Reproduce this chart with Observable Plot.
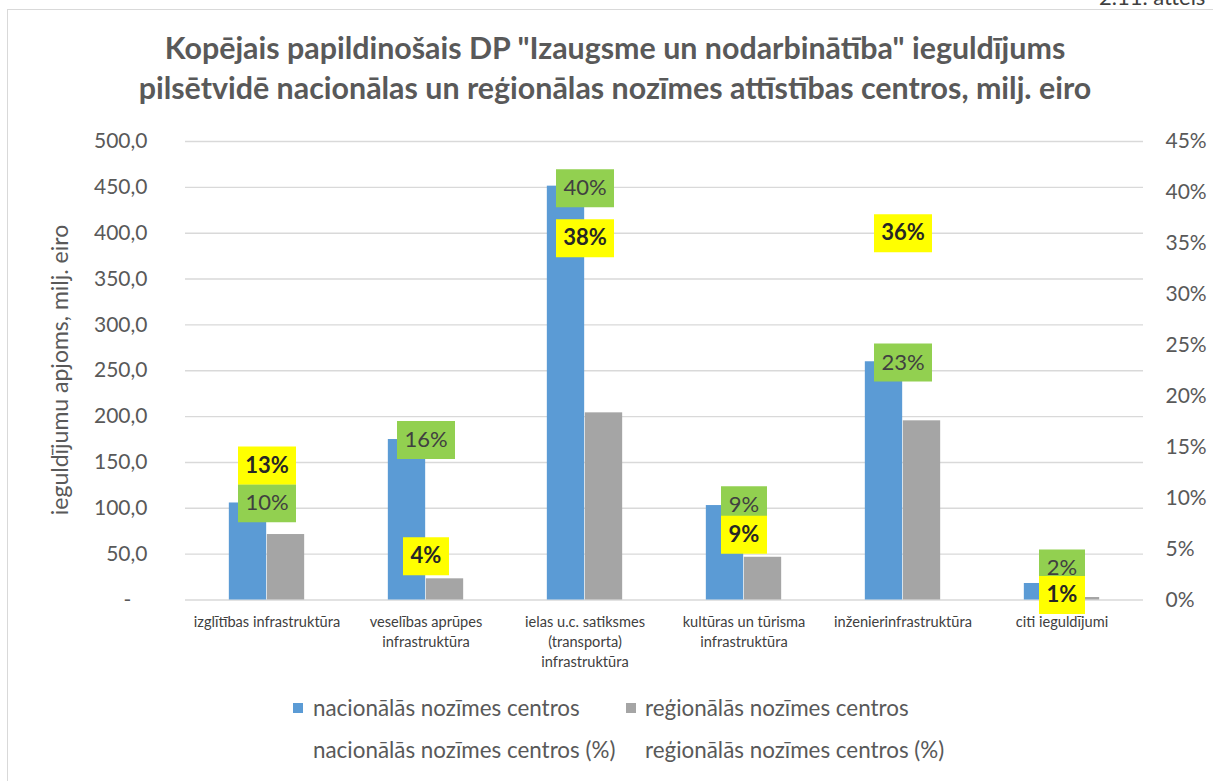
<!DOCTYPE html>
<html><head><meta charset="utf-8">
<script src="https://cdn.jsdelivr.net/npm/d3@7"></script>
<script src="https://cdn.jsdelivr.net/npm/@observablehq/plot@0.6"></script>
<style>
html,body{margin:0;padding:0;background:#fff;}
body{width:1213px;height:781px;overflow:hidden;position:relative;font-family:Lato,sans-serif;}
#frame{position:absolute;left:7px;top:9px;width:1400px;height:900px;border-left:1.5px solid #d9d9d9;border-top:1.5px solid #d9d9d9;}
#fignum{position:absolute;left:1099px;top:-14px;font-size:22px;line-height:22px;color:#404040;white-space:nowrap;}
#title{position:absolute;left:0;width:1230px;top:27px;text-align:center;font-weight:bold;font-size:30.4px;line-height:40px;color:#595959;}
#fig{position:absolute;left:0;top:0;}
#ylabel{position:absolute;left:59px;top:370px;transform:translate(-50%,-50%) rotate(-90deg);white-space:nowrap;font-size:23px;color:#595959;}
.leg{position:absolute;font-size:22.4px;line-height:26px;color:#595959;white-space:nowrap;}
.sw{position:absolute;width:10px;height:10px;}
</style>
</head><body>
<div id="frame"></div>
<div id="fignum">2.11. attēls</div>
<div id="title"></div>
<div id="fig"></div>
<div id="ylabel"></div>
<div id="legend"></div>
<script>
// ---- data ----
const categories = ["izglītības infrastruktūra", "veselības aprūpes infrastruktūra", "ielas u.c. satiksmes (transporta) infrastruktūra", "kultūras un tūrisma infrastruktūra", "inženierinfrastruktūra", "citi ieguldījumi"];
const categoryLabels = ["izglītības infrastruktūra", "veselības aprūpes\ninfrastruktūra", "ielas u.c. satiksmes\n(transporta)\ninfrastruktūra", "kultūras un tūrisma\ninfrastruktūra", "inženierinfrastruktūra", "citi ieguldījumi"];
const nacionalas = [105.8, 175.0, 451.3, 103.0, 259.8, 18.0];
const regionalas = [71.4, 23.1, 204.1, 46.6, 195.4, 2.7];
const nacionalasPct = [9.5, 15.7, 40.4, 9.3, 23.3, 1.6];
const regionalasPct = [13.2, 4.3, 37.6, 8.6, 36.0, 0.5];
const yTicks = [0, 50, 100, 150, 200, 250, 300, 350, 400, 450, 500];
const pctTicks = [0, 5, 10, 15, 20, 25, 30, 35, 40, 45];
const seriesNames = ["nacionālās nozīmes centros", "reģionālās nozīmes centros", "nacionālās nozīmes centros (%)", "reģionālās nozīmes centros (%)"];
const titleLines = ["Kopējais papildinošais DP \"Izaugsme un nodarbinātība\" ieguldījums", "pilsētvidē nacionālas un reģionālas nozīmes attīstības centros, milj. eiro"];
const yLabel = "ieguldījumu apjoms, milj. eiro";

// ---- build ----
document.getElementById("title").innerHTML = titleLines.join("<br>");
document.getElementById("ylabel").textContent = yLabel;

const bars = categories.map((c, i) => ({cat: c, nat: nacionalas[i], reg: regionalas[i]}));
// secondary axis (0–45 %) mapped onto primary (0–500)
const pctToY = p => p * 500 / 45;
// manual label displacement (in % units) where labels would collide
const nudge = {"nat-5": 1.5, "reg-2": -2.1, "reg-3": -2.2};
const natLabels = categories.map((c, i) => ({cat: c, pct: nacionalasPct[i], n: nudge["nat-" + i] || 0}));
const regLabels = categories.map((c, i) => ({cat: c, pct: regionalasPct[i], n: nudge["reg-" + i] || 0}));
const box = w => ({draw(ctx) { ctx.rect(-w / 2, -19, w, 38); }});
const lblText = d => Math.round(d.pct) + "%";
const boxMarks = (rows, fill) => [
  Plot.dot(rows.filter(d => lblText(d).length > 2), {x: "cat", y: d => pctToY(d.pct + d.n), symbol: box(58), r: 1, fill, stroke: null}),
  Plot.dot(rows.filter(d => lblText(d).length <= 2), {x: "cat", y: d => pctToY(d.pct + d.n), symbol: box(46), r: 1, fill, stroke: null})
];
const bw = 38, half = 958 / 6 / 2;

const chart = Plot.plot({
  width: 1213, height: 690,
  marginTop: 141, marginBottom: 90.5, marginLeft: 185, marginRight: 70,
  style: {fontFamily: "Lato, sans-serif", fontSize: "20px", color: "#595959", background: "transparent", overflow: "visible"},
  x: {domain: categories, padding: 0, axis: null},
  y: {domain: [0, 500], axis: null},
  marks: [
    Plot.ruleY(yTicks, {y: d => d, stroke: "#d9d9d9", strokeWidth: 1.4}),
    Plot.barY(bars, {x: "cat", y: "nat", fill: "#5b9bd5", insetLeft: half - bw, insetRight: half}),
    Plot.barY(bars, {x: "cat", y: "reg", fill: "#a5a5a5", insetLeft: half, insetRight: half - bw}),
    Plot.text(yTicks, {y: d => d, text: d => d === 0 ? "-\u00a0\u00a0\u00a0" : d.toFixed(1).replace(".", ","), frameAnchor: "left", textAnchor: "end", dx: -38, fontSize: 21, fill: "#595959"}),
    Plot.text(pctTicks, {y: d => pctToY(d), text: d => d + "%", frameAnchor: "right", textAnchor: "start", dx: 22, fontSize: 21, fill: "#595959"}),
    Plot.text(categories, {x: d => d, text: (d, i) => categoryLabels[i], frameAnchor: "bottom", lineAnchor: "top", dy: 13, fontSize: 14.6, lineHeight: 1.37, fill: "#404040"}),
    ...boxMarks(natLabels, "#92d050"),
    Plot.text(natLabels, {x: "cat", y: d => pctToY(d.pct + d.n), text: lblText, fontSize: 22, fill: "#404040"}),
    ...boxMarks(regLabels, "#ffff00"),
    Plot.text(regLabels, {x: "cat", y: d => pctToY(d.pct + d.n), text: lblText, fontSize: 22, fontWeight: "bold", fill: "#262626"})
  ]
});
document.getElementById("fig").appendChild(chart);

// legend
const leg = document.getElementById("legend");
const legItems = [
  {name: seriesNames[0], color: "#5b9bd5", x: 313, y: 695, sx: 293},
  {name: seriesNames[1], color: "#a5a5a5", x: 645, y: 695, sx: 626},
  {name: seriesNames[2], color: null, x: 313, y: 737},
  {name: seriesNames[3], color: null, x: 645, y: 737}
];
legItems.forEach(it => {
  if (it.color) {
    const s = document.createElement("div");
    s.className = "sw"; s.style.left = it.sx + "px"; s.style.top = (it.y + 8) + "px"; s.style.background = it.color;
    leg.appendChild(s);
  }
  const t = document.createElement("div");
  t.className = "leg"; t.style.left = it.x + "px"; t.style.top = it.y + "px"; t.textContent = it.name;
  leg.appendChild(t);
});
</script>
</body></html>
